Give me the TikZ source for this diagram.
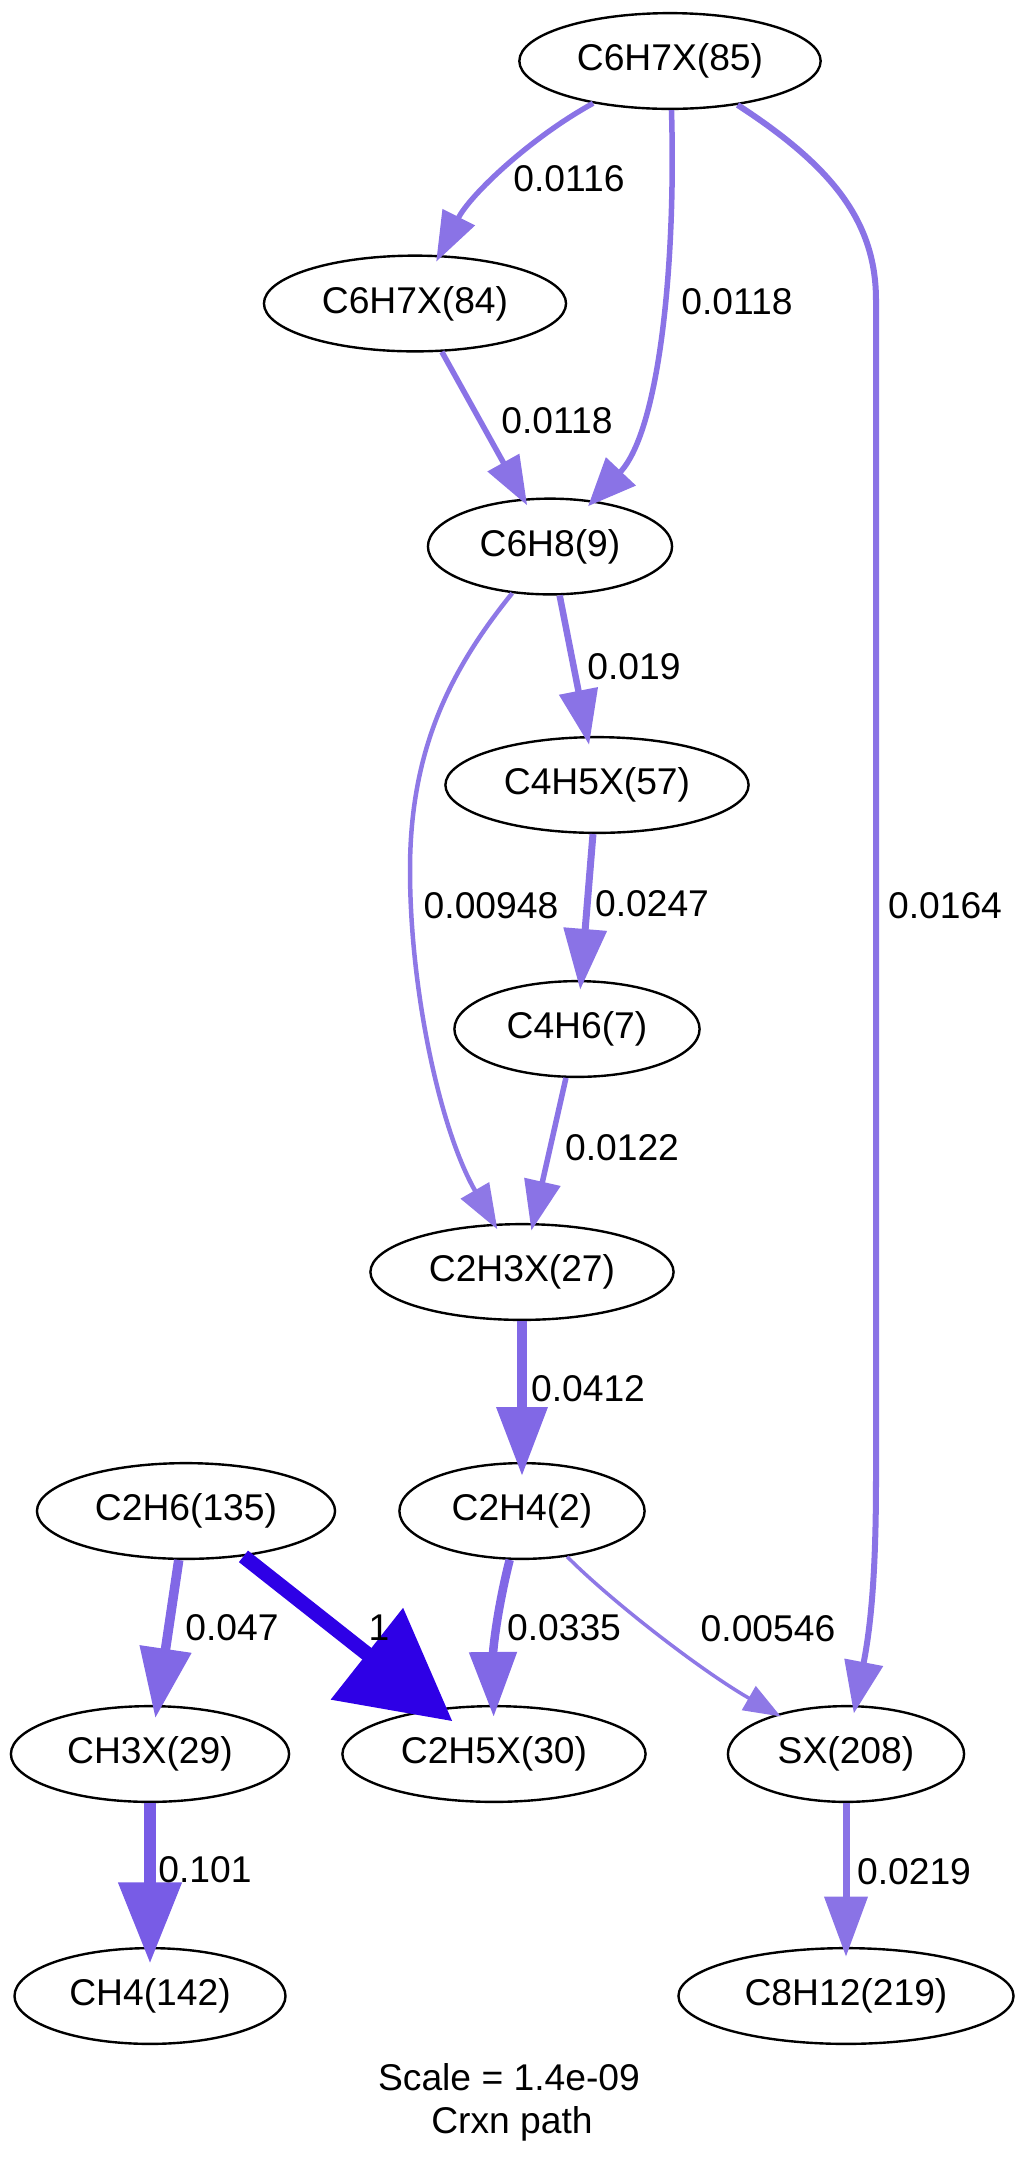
\documentclass[tikz,border=0pt]{standalone}
\usepackage{fontspec}
\setmainfont{Liberation Sans}
\usetikzlibrary{arrows.meta,shapes.geometric}
\definecolor{cN}{HTML}{8A73E6}
\definecolor{cL}{HTML}{8E78E6}
\definecolor{cM}{HTML}{8168E6}
\definecolor{cH}{HTML}{785CE6}
\definecolor{cX}{HTML}{2E00E6}
\begin{document}
\begin{tikzpicture}[x=0.376pt,y=-0.376pt,
  sp/.style={draw=black, line width=0.9pt, ellipse, inner sep=0pt, minimum height=36pt,
    font=\fontsize{14}{16.8}\selectfont},
  lbl/.style={inner sep=0pt, font=\fontsize{14}{16.8}\selectfont},
  fx/.style n args={5}{line width=#1pt, draw=#2,
    -{Triangle[length=#3pt,width=#4pt]}, shorten >=#5pt},
  ]
\useasboundingbox (0,0) rectangle (1015,2161);
% species
\node[sp, minimum width=113.3pt] (n85) at (670,61) {C6H7X(85)};
\node[sp, minimum width=113.6pt] (n84) at (415,303.5) {C6H7X(84)};
\node[sp, minimum width=91.8pt] (n9) at (550,546.5) {C6H8(9)};
\node[sp, minimum width=114pt] (n57) at (597,785) {C4H5X(57)};
\node[sp, minimum width=92.2pt] (n7) at (577,1029) {C4H6(7)};
\node[sp, minimum width=114pt] (n27) at (522,1272) {C2H3X(27)};
\node[sp, minimum width=112.1pt] (n135) at (186,1511) {C2H6(135)};
\node[sp, minimum width=92.2pt] (n2) at (522,1511) {C2H4(2)};
\node[sp, minimum width=104.6pt] (n29) at (150,1754) {CH3X(29)};
\node[sp, minimum width=114pt] (n30) at (494,1754) {C2H5X(30)};
\node[sp, minimum width=88.8pt] (n208) at (846,1754) {SX(208)};
\node[sp, minimum width=101.9pt] (n142) at (150,1996) {CH4(142)};
\node[sp, minimum width=126pt] (n219) at (846,1996) {C8H12(219)};
% fluxes
\draw[fx={2.0}{cN}{18.8}{13.2}{-2.8}] (n85) .. controls (530,138) and (470,195) .. (n84);
\draw[fx={2.07}{cN}{18.0}{15.0}{-2.9}] (n85) .. controls (676,260) and (660,430) .. (n9);
\draw[fx={2.26}{cN}{19.6}{14.3}{-3.2}] (n85) .. controls (830,165) and (876,220) .. (876,300)
   -- (876,1480) .. controls (876,1580) and (870,1630) .. (n208);
\draw[fx={2.07}{cN}{18.4}{13.2}{-2.9}] (n84) -- (n9);
\draw[fx={1.69}{cL}{16.9}{12.0}{-2.4}] (n9) .. controls (450,670) and (410,750) .. (410,870)
   .. controls (410,990) and (440,1130) .. (n27);
\draw[fx={2.44}{cN}{20.7}{14.3}{-3.4}] (n9) -- (n57);
\draw[fx={2.63}{cN}{22.9}{15.8}{-3.7}] (n57) -- (n7);
\draw[fx={2.07}{cN}{18.8}{13.5}{-2.9}] (n7) -- (n27);
\draw[fx={3.76}{cM}{25.9}{18.4}{-5.3}] (n27) -- (n2);
\draw[fx={3.57}{cM}{26.3}{18.8}{-5.0}] (n135) -- (n29);
\draw[fx={5.53}{cX}{41.0}{42.5}{-7.7}] (n135) -- (n30);
\draw[fx={3.2}{cM}{24.4}{17.3}{-4.5}] (n2) .. controls (497,1610) and (493,1650) .. (n30);
\draw[fx={1.32}{cL}{13.9}{10.2}{-1.8}] (n2) .. controls (610,1600) and (700,1670) .. (n208);
\draw[fx={4.4}{cH}{30.5}{22.9}{-6.2}] (n29) -- (n142);
\draw[fx={2.63}{cN}{22.6}{15.8}{-3.7}] (n208) -- (n219);
% labels
\node[lbl] (l1) at (569,179) {0.0116};
\node[lbl] (l2) at (737,302) {0.0118};
\node[lbl] (l3) at (945,906) {0.0164};
\node[lbl] (l4) at (557,421) {0.0118};
\node[lbl] (l5) at (491,906) {0.00948};
\node[lbl] (l6) at (634,667) {0.019};
\node[lbl] (l7) at (652,904) {0.0247};
\node[lbl] (l8) at (622,1148) {0.0122};
\node[lbl] (l9) at (588,1389) {0.0412};
\node[lbl] (l10) at (232,1628) {0.047};
\node[lbl] (l11) at (379,1628) {1};
\node[lbl] (l12) at (564,1628) {0.0335};
\node[lbl] (l13) at (768,1629) {0.00546};
\node[lbl] (l14) at (205,1870) {0.101};
\node[lbl] (l15) at (914,1872) {0.0219};
\node[lbl, anchor=base] (scale) at (509,2090) {Scale = 1.4e-09};
\node[lbl, anchor=base] (crxn) at (512,2133) {Crxn path};
\end{tikzpicture}
\end{document}
